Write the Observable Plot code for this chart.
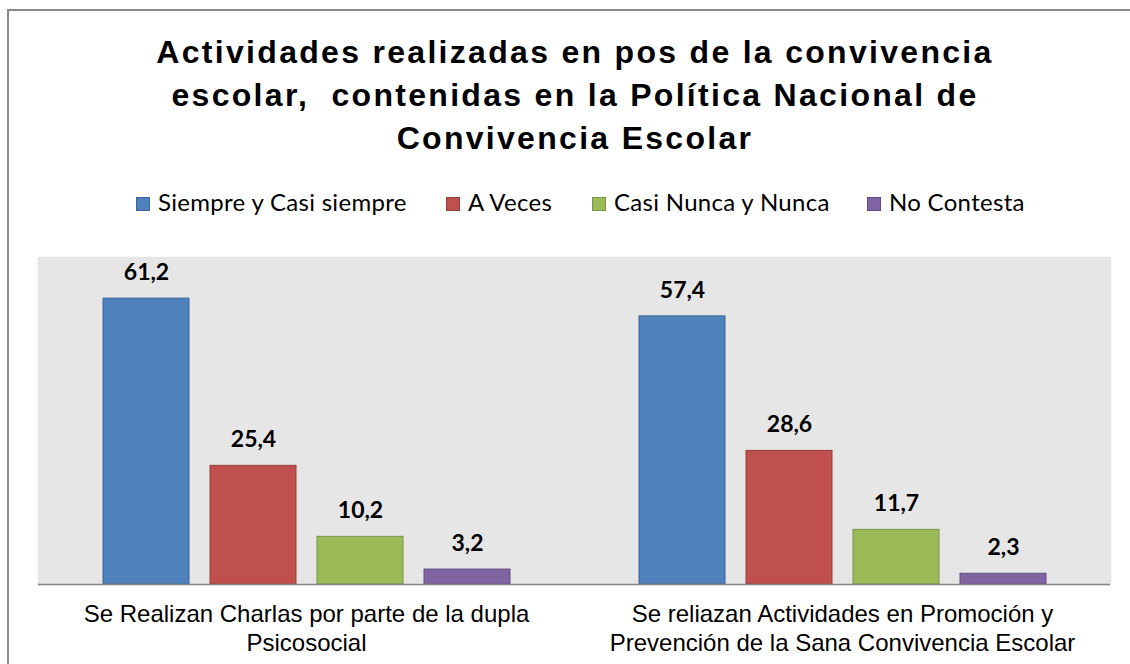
<!DOCTYPE html>
<html><head><meta charset="utf-8">
<script src="https://cdn.jsdelivr.net/npm/d3@7"></script>
<script src="https://cdn.jsdelivr.net/npm/@observablehq/plot@0.6"></script>
<style>
body{margin:0;background:#fff;width:1130px;height:664px;overflow:hidden;position:relative;font-family:"Liberation Sans",Arial,sans-serif;}
#border{position:absolute;left:7px;top:9px;width:1140px;height:700px;border:2px solid #8a8a8a;box-sizing:border-box;}
#title{position:absolute;left:0;width:1150px;top:31px;text-align:center;font-weight:bold;font-size:32px;letter-spacing:2.3px;line-height:43px;color:#000;}
#legend{position:absolute;top:187px;left:0;width:1130px;height:30px;font-family:"Lato","Open Sans",sans-serif;font-size:24px;letter-spacing:0.3px;color:#000;}
.item{position:absolute;top:0;white-space:nowrap;line-height:30px;}
.sw{display:inline-block;width:14px;height:14px;margin-right:8px;vertical-align:0px;box-sizing:border-box;border:1px solid;}
#chart{position:absolute;left:0;top:240px;}
</style>
</head><body>
<div id="border"></div>
<div id="title">Actividades realizadas en pos de la convivencia<br>escolar,&nbsp; contenidas en la Política Nacional de<br>Convivencia Escolar</div>
<div id="legend"></div>
<div id="chart"></div>
<script>
const categories = [
  "Se Realizan Charlas por parte de la dupla\nPsicosocial",
  "Se reliazan Actividades en Promoción y\nPrevención de la Sana Convivencia Escolar"
];
const series = ["Siempre y Casi siempre", "A Veces", "Casi Nunca y Nunca", "No Contesta"];
const valuesCharlas = [61.2, 25.4, 10.2, 3.2];
const valuesActividades = [57.4, 28.6, 11.7, 2.3];
const fillColors = ["#4F81BD", "#C0504D", "#9BBB59", "#8064A2"];
const strokeColors = ["#3A6596", "#963E3B", "#7A9645", "#634D80"];

const legendX = [136, 446, 592, 867];

const data = [];
[valuesCharlas, valuesActividades].forEach((vals, ci) => {
  vals.forEach((v, si) => data.push({category: categories[ci], series: series[si], si, value: v}));
});

const legend = document.getElementById("legend");
series.forEach((s, i) => {
  const it = document.createElement("div");
  it.className = "item";
  it.style.left = legendX[i] + "px";
  it.innerHTML = `<span class="sw" style="background:${fillColors[i]};border-color:${strokeColors[i]}"></span>${s}`;
  legend.appendChild(it);
});

const fmt = v => v.toFixed(1).replace(".", ",");

const chart = Plot.plot({
  width: 1130,
  height: 424,
  marginTop: 17,
  marginBottom: 80,
  marginLeft: 37,
  marginRight: 20,
  style: {background: "transparent", overflow: "visible"},
  fx: {domain: categories, padding: 0, label: null, axis: null},
  x: {domain: series, paddingInner: 0.2, paddingOuter: 0.6, axis: null},
  y: {domain: [0, 70], axis: null},
  marks: [
    Plot.frame({fill: "#E6E6E6", stroke: "#E6E6E6", strokeWidth: 1.5}),
    Plot.barY(data, {fx: "category", x: "series", y: "value",
      fill: d => fillColors[d.si], stroke: d => strokeColors[d.si], strokeWidth: 1}),
    Plot.text(data, {fx: "category", x: "series", y: "value", text: d => fmt(d.value),
      dy: -26, fontWeight: "bold", fontSize: 23, fontFamily: "Lato, 'Open Sans', sans-serif", fill: "#000"}),
    Plot.ruleY([0], {stroke: "#868686", strokeWidth: 1.5}),
    Plot.axisFx({anchor: "bottom", tickSize: 0, tickPadding: 17, fontSize: 24, lineHeight: 1.2,
      fontFamily: "'Liberation Sans', Arial, sans-serif", fill: "#000", label: null})
  ]
});
document.getElementById("chart").appendChild(chart);
</script>
</body></html>
